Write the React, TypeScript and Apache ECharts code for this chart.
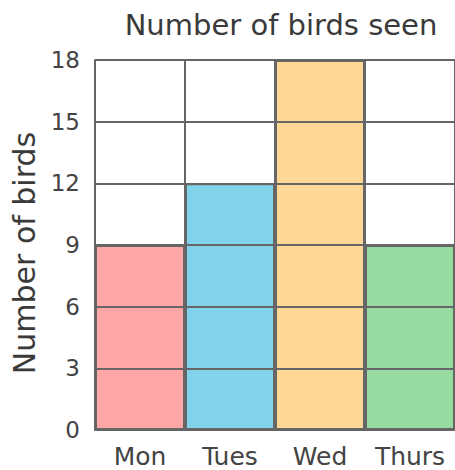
import React, { useEffect, useRef } from "react";
import * as echarts from "echarts";

const categories = ["Mon", "Tues", "Wed", "Thurs"];
const values = [9, 12, 18, 9];
const colors = ["#FFA6A6", "#80D3EA", "#FFD896", "#98DBA0"];
const yTicks = { min: 0, max: 18, interval: 3 };

export default function App() {
  const ref = useRef<HTMLDivElement>(null);
  useEffect(() => {
    const chart = echarts.init(ref.current!, null, { renderer: "svg" });
    const font = "'DejaVu Sans', sans-serif";
    chart.setOption({
      animation: false,
      textStyle: { fontFamily: font },
      title: {
        text: "Number of birds seen",
        left: 276,
        top: 5,
        textAlign: "center",
        textStyle: { fontSize: 29, fontWeight: "normal", color: "#3a3a3a", fontFamily: font },
      },
      grid: { left: 95, top: 60, width: 362, height: 370, containLabel: false },
      xAxis: {
        type: "category",
        data: categories,
        boundaryGap: true,
        axisLine: { show: true, lineStyle: { color: "#666", width: 2 } },
        axisTick: { show: false },
        splitLine: { show: true, lineStyle: { color: "#666", width: 2 } },
        axisLabel: { interval: 0, hideOverlap: false, fontSize: 25, color: "#444", margin: 14, fontFamily: font },
        z: 10,
      },
      yAxis: {
        type: "value",
        min: yTicks.min,
        max: yTicks.max,
        interval: yTicks.interval,
        name: "Number of birds",
        nameLocation: "middle",
        nameGap: 56,
        nameTextStyle: { fontSize: 30, color: "#3a3a3a", fontFamily: font, padding: [0, 16, 0, 0] },
        axisLine: { show: true, lineStyle: { color: "#666", width: 2 } },
        axisTick: { show: false },
        splitLine: { show: true, lineStyle: { color: "#666", width: 2 } },
        axisLabel: { fontSize: 23, color: "#444", margin: 15, fontFamily: font, padding: [8, 0, 0, 0] },
        z: 10,
      },
      series: [
        {
          type: "bar",
          data: values.map((v, i) => ({ value: v, itemStyle: { color: colors[i] } })),
          barCategoryGap: "0%",
          itemStyle: { borderColor: "#666", borderWidth: 2 },
        },
      ],
    });
    return () => chart.dispose();
  }, []);
  return <div ref={ref} style={{ position: "fixed", left: 0, top: 0, width: 455, height: 470, background: "#fff" }} />;
}
